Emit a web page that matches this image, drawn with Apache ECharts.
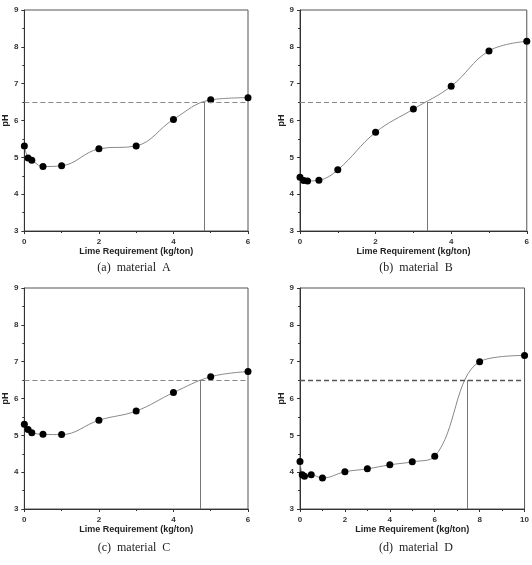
<!DOCTYPE html>
<html>
<head>
<meta charset="utf-8">
<script src="https://cdn.jsdelivr.net/npm/echarts@6/dist/echarts.min.js"></script>
<style>
  html, body { margin: 0; padding: 0; background: #fff; }
  #chart { width: 532px; height: 565px; }
</style>
</head>
<body>
<div id="chart"></div>
<script>
// lime dose (kg/ton) and measured pH, one pair per material
var doseABC = [0, 0.1, 0.2, 0.5, 1, 2, 3, 4, 5, 6];
var doseD = [0, 0.1, 0.2, 0.5, 1, 2, 3, 4, 5, 6, 8, 10];
var phA = [5.31, 4.98, 4.92, 4.75, 4.77, 5.23, 5.31, 6.03, 6.56, 6.62];
var phB = [4.46, 4.37, 4.36, 4.38, 4.66, 5.68, 6.31, 6.93, 7.89, 8.15];
var phC = [5.30, 5.16, 5.07, 5.03, 5.02, 5.41, 5.66, 6.16, 6.59, 6.73];
var phD = [4.29, 3.93, 3.89, 3.93, 3.84, 4.01, 4.09, 4.20, 4.28, 4.43, 7.00, 7.17];
var targetPH = 6.5;
// lime requirement where each curve crosses pH 6.5
var limeReq = [4.83, 3.36, 4.73, 7.43];
var xMax = [6, 6, 6, 10];
var captions = ['(a)  material  A', '(b)  material  B', '(c)  material  C', '(d)  material  D'];

var grids = [
  {left: 21, top: 10, width: 227, height: 221},
  {left: 300, top: 10, width: 229, height: 221},
  {left: 21, top: 288, width: 227, height: 221},
  {left: 300, top: 288, width: 229, height: 221}
];
var captionPos = [[134, 268], [416, 268], [134, 548], [416, 548]];
var panels = [
  {x: doseABC, y: phA},
  {x: doseABC, y: phB},
  {x: doseABC, y: phC},
  {x: doseD, y: phD}
];

var tickFont = {fontSize: 8, fontWeight: 'bold', color: '#333', fontFamily: 'Liberation Sans'};
var xAxes = [], yAxes = [], series = [], graphics = [];

panels.forEach(function (p, i) {
  grids[i].show = true;
  grids[i].borderColor = '#555';
  grids[i].borderWidth = 1;
  xAxes.push({
    type: 'value', gridIndex: i, min: 0, max: xMax[i], interval: 2,
    name: 'Lime Requirement (kg/ton)', nameLocation: 'middle', nameGap: 15,
    nameTextStyle: {fontSize: 9, fontWeight: 'bold', color: '#222', fontFamily: 'Liberation Sans'},
    axisLine: {lineStyle: {color: '#333'}},
    axisTick: {length: 3, lineStyle: {color: '#333'}},
    minorTick: {show: true, splitNumber: 2, length: 2, lineStyle: {color: '#333'}},
    axisLabel: Object.assign({margin: 7}, tickFont),
    splitLine: {show: false}
  });
  yAxes.push({
    type: 'value', gridIndex: i, min: 3, max: 9, interval: 1,
    name: 'pH', nameLocation: 'middle', nameGap: 12,
    nameTextStyle: {fontSize: 9, fontWeight: 'bold', color: '#222', fontFamily: 'Liberation Sans'},
    axisLine: {lineStyle: {color: '#333'}},
    axisTick: {length: 3, lineStyle: {color: '#333'}},
    minorTick: {show: true, splitNumber: 2, length: 2, lineStyle: {color: '#333'}},
    axisLabel: Object.assign({margin: 6}, tickFont),
    splitLine: {show: false}
  });
  var pts = p.x.map(function (v, k) { return [v, p.y[k]]; });
  series.push({
    type: 'line', xAxisIndex: i, yAxisIndex: i, data: pts,
    smooth: 0.4, symbol: 'circle', symbolSize: 7,
    itemStyle: {color: '#000'},
    lineStyle: {color: '#888', width: 1},
    silent: true, animation: false,
    markLine: {
      silent: true, symbol: 'none', label: {show: false},
      data: [
        {yAxis: targetPH, lineStyle: {color: i === 3 ? '#555' : '#888', type: [5, 3], width: i === 3 ? 1.3 : 1}},
        [{coord: [limeReq[i], 3]}, {coord: [limeReq[i], targetPH], lineStyle: {color: '#777', type: 'solid', width: 1}}]
      ]
    }
  });
  graphics.push({
    type: 'text', x: captionPos[i][0], y: captionPos[i][1],
    style: {text: captions[i], fill: '#222', font: '12px "Liberation Serif"', align: 'center', verticalAlign: 'middle'}
  });
});

var chart = echarts.init(document.getElementById('chart'));
chart.setOption({
  animation: false,
  grid: grids,
  xAxis: xAxes,
  yAxis: yAxes,
  series: series,
  graphic: graphics
});
</script>
</body>
</html>
